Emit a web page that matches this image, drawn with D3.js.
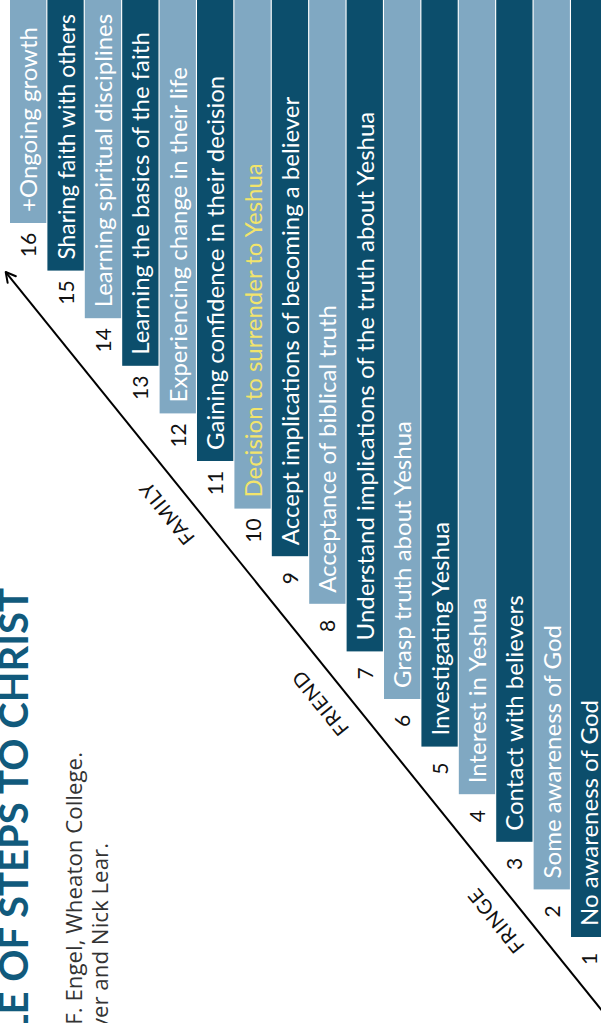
<!DOCTYPE html>
<html>
<head>
<meta charset="utf-8">
<title>Steps to Christ</title>
<script src="https://cdnjs.cloudflare.com/ajax/libs/d3/7.8.5/d3.min.js"></script>
<style>
body{margin:0;background:#fff;}
svg{display:block;}
</style>
</head>
<body>
<svg id="svg" width="601" height="1023"></svg>
<script>
// steps of the scale, bottom (1) to top (16)
var steps = [1,2,3,4,5,6,7,8,9,10,11,12,13,14,15,16];
var stepLabels = [
  "No awareness of God",
  "Some awareness of God",
  "Contact with believers",
  "Interest in Yeshua",
  "Investigating Yeshua",
  "Grasp truth about Yeshua",
  "Understand implications of the truth about Yeshua",
  "Acceptance of biblical truth",
  "Accept implications of becoming a believer",
  "Decision to surrender to Yeshua",
  "Gaining confidence in their decision",
  "Experiencing change in their life",
  "Learning the basics of the faith",
  "Learning spiritual disciplines",
  "Sharing faith with others",
  "+Ongoing growth"
];
var highlightStep = 10;
var groups = ["FRINGE","FRIEND","FAMILY"];
var groupAt = [2.95, 7.65, 11.75];     // position of group label along the scale (in steps)
var arrowFrom = [0.6, -0.6];           // start / end of the arrow, in step units
var arrowTo = [16.6, 14.97];
var title = "ENGEL SCALE OF STEPS TO CHRIST";
var credits = ["Adapted from the Engel Scale by James F. Engel, Wheaton College.",
               "Revised by Paul Oliver and Nick Lear."];

var dark = "#0c4e6c", light = "#80a8c2";

function draw(){
  var svg = d3.select("#svg");

  // columns: step 16 on the left, step 1 on the right
  var x = d3.scaleBand().domain(steps.slice().reverse()).range([10, 607.3]).paddingInner(0.03);
  var xc = d3.scaleLinear().domain([1,16]).range([x(1)+x.bandwidth()/2, x(16)+x.bandwidth()/2]);
  // where each bar ends
  var y = d3.scaleLinear().domain([1,16]).range([937, 223]);

  var bars = svg.append("g");
  bars.selectAll("rect").data(steps).enter().append("rect")
    .attr("x", function(d){ return x(d); })
    .attr("y", -2)
    .attr("width", x.bandwidth())
    .attr("height", function(d){ return y(d)+2; })
    .attr("fill", function(d){ return d%2==1 ? dark : light; });

  bars.selectAll("text.lab").data(steps).enter().append("text")
    .attr("class","lab")
    .attr("transform", function(d){ return "translate("+(x(d)+x.bandwidth()/2)+","+(y(d)-11)+") rotate(-90)"; })
    .attr("dy", 9)
    .attr("font-family","Lato")
    .attr("font-size", 24)
    .attr("fill", function(d){ return d==highlightStep ? "#f2e46c" : "#fff"; })
    .text(function(d){ return stepLabels[d-1]; })
    .each(function(d){
      // squeeze a label that would run off the top
      var room = y(d) - 11 - 14;
      if (this.getComputedTextLength() > room){
        d3.select(this).attr("textLength", room).attr("lengthAdjust","spacingAndGlyphs");
      }
    });

  svg.append("g").selectAll("text").data(steps).enter().append("text")
    .attr("transform", function(d){ return "translate("+(x(d)+x.bandwidth()/2)+","+(y(d)+22)+") rotate(-90)"; })
    .attr("dy", 8)
    .attr("text-anchor","middle")
    .attr("font-family","Lato")
    .attr("font-size", 21)
    .attr("fill","#111")
    .text(function(d){ return d; });

  // arrow
  var p0 = [xc(arrowFrom[0]), y(arrowFrom[1])];
  var p1 = [xc(arrowTo[0]), y(arrowTo[1])];
  var dx = p1[0]-p0[0], dy = p1[1]-p0[1], len = Math.sqrt(dx*dx+dy*dy);
  var ux = dx/len, uy = dy/len;
  svg.append("line").attr("x1",p0[0]).attr("y1",p0[1]).attr("x2",p1[0]).attr("y2",p1[1])
    .attr("stroke","#000").attr("stroke-width",2);
  var a = 11, s = 0.5;
  var head = "M"+(p1[0]-a*(ux*Math.cos(s)-uy*Math.sin(s)))+","+(p1[1]-a*(uy*Math.cos(s)+ux*Math.sin(s)))
    +" L"+p1[0]+","+p1[1]
    +" L"+(p1[0]-a*(ux*Math.cos(-s)-uy*Math.sin(-s)))+","+(p1[1]-a*(uy*Math.cos(-s)+ux*Math.sin(-s)));
  svg.append("path").attr("d",head).attr("fill","none").attr("stroke","#000")
    .attr("stroke-width",2).attr("stroke-linecap","round").attr("stroke-linejoin","round");

  // group labels along the arrow
  var ang = Math.atan2(uy, ux)*180/Math.PI;
  var nx = uy, ny = -ux; // lower-left side
  svg.append("g").selectAll("text").data(groups).enter().append("text")
    .attr("transform", function(d,i){
      var t = (groupAt[i]-arrowFrom[0])/(arrowTo[0]-arrowFrom[0]);
      var px = p0[0]+dx*t + nx*19, py = p0[1]+dy*t + ny*19;
      return "translate("+px+","+py+") rotate("+ang+")";
    })
    .attr("text-anchor","middle")
    .attr("font-family","Lato")
    .attr("font-size", 20)
    .attr("letter-spacing", 1)
    .attr("fill","#111")
    .text(function(d){ return d; });

  // title and credits
  svg.append("text")
    .attr("transform","translate(28,588) rotate(-90)")
    .attr("text-anchor","end")
    .attr("font-family","Lato").attr("font-weight","bold")
    .attr("font-size", 40)
    .attr("fill","#115a7c")
    .text(title);
  svg.append("g").selectAll("text").data(credits).enter().append("text")
    .attr("transform", function(d,i){ return i==0 ? "translate(82,752) rotate(-90)" : "translate(108,843) rotate(-90)"; })
    .attr("text-anchor","end")
    .attr("font-family","Open Sans")
    .attr("font-size", 22.3)
    .attr("fill","#333")
    .text(function(d){ return d; });
}
draw();
</script>
</body>
</html>
